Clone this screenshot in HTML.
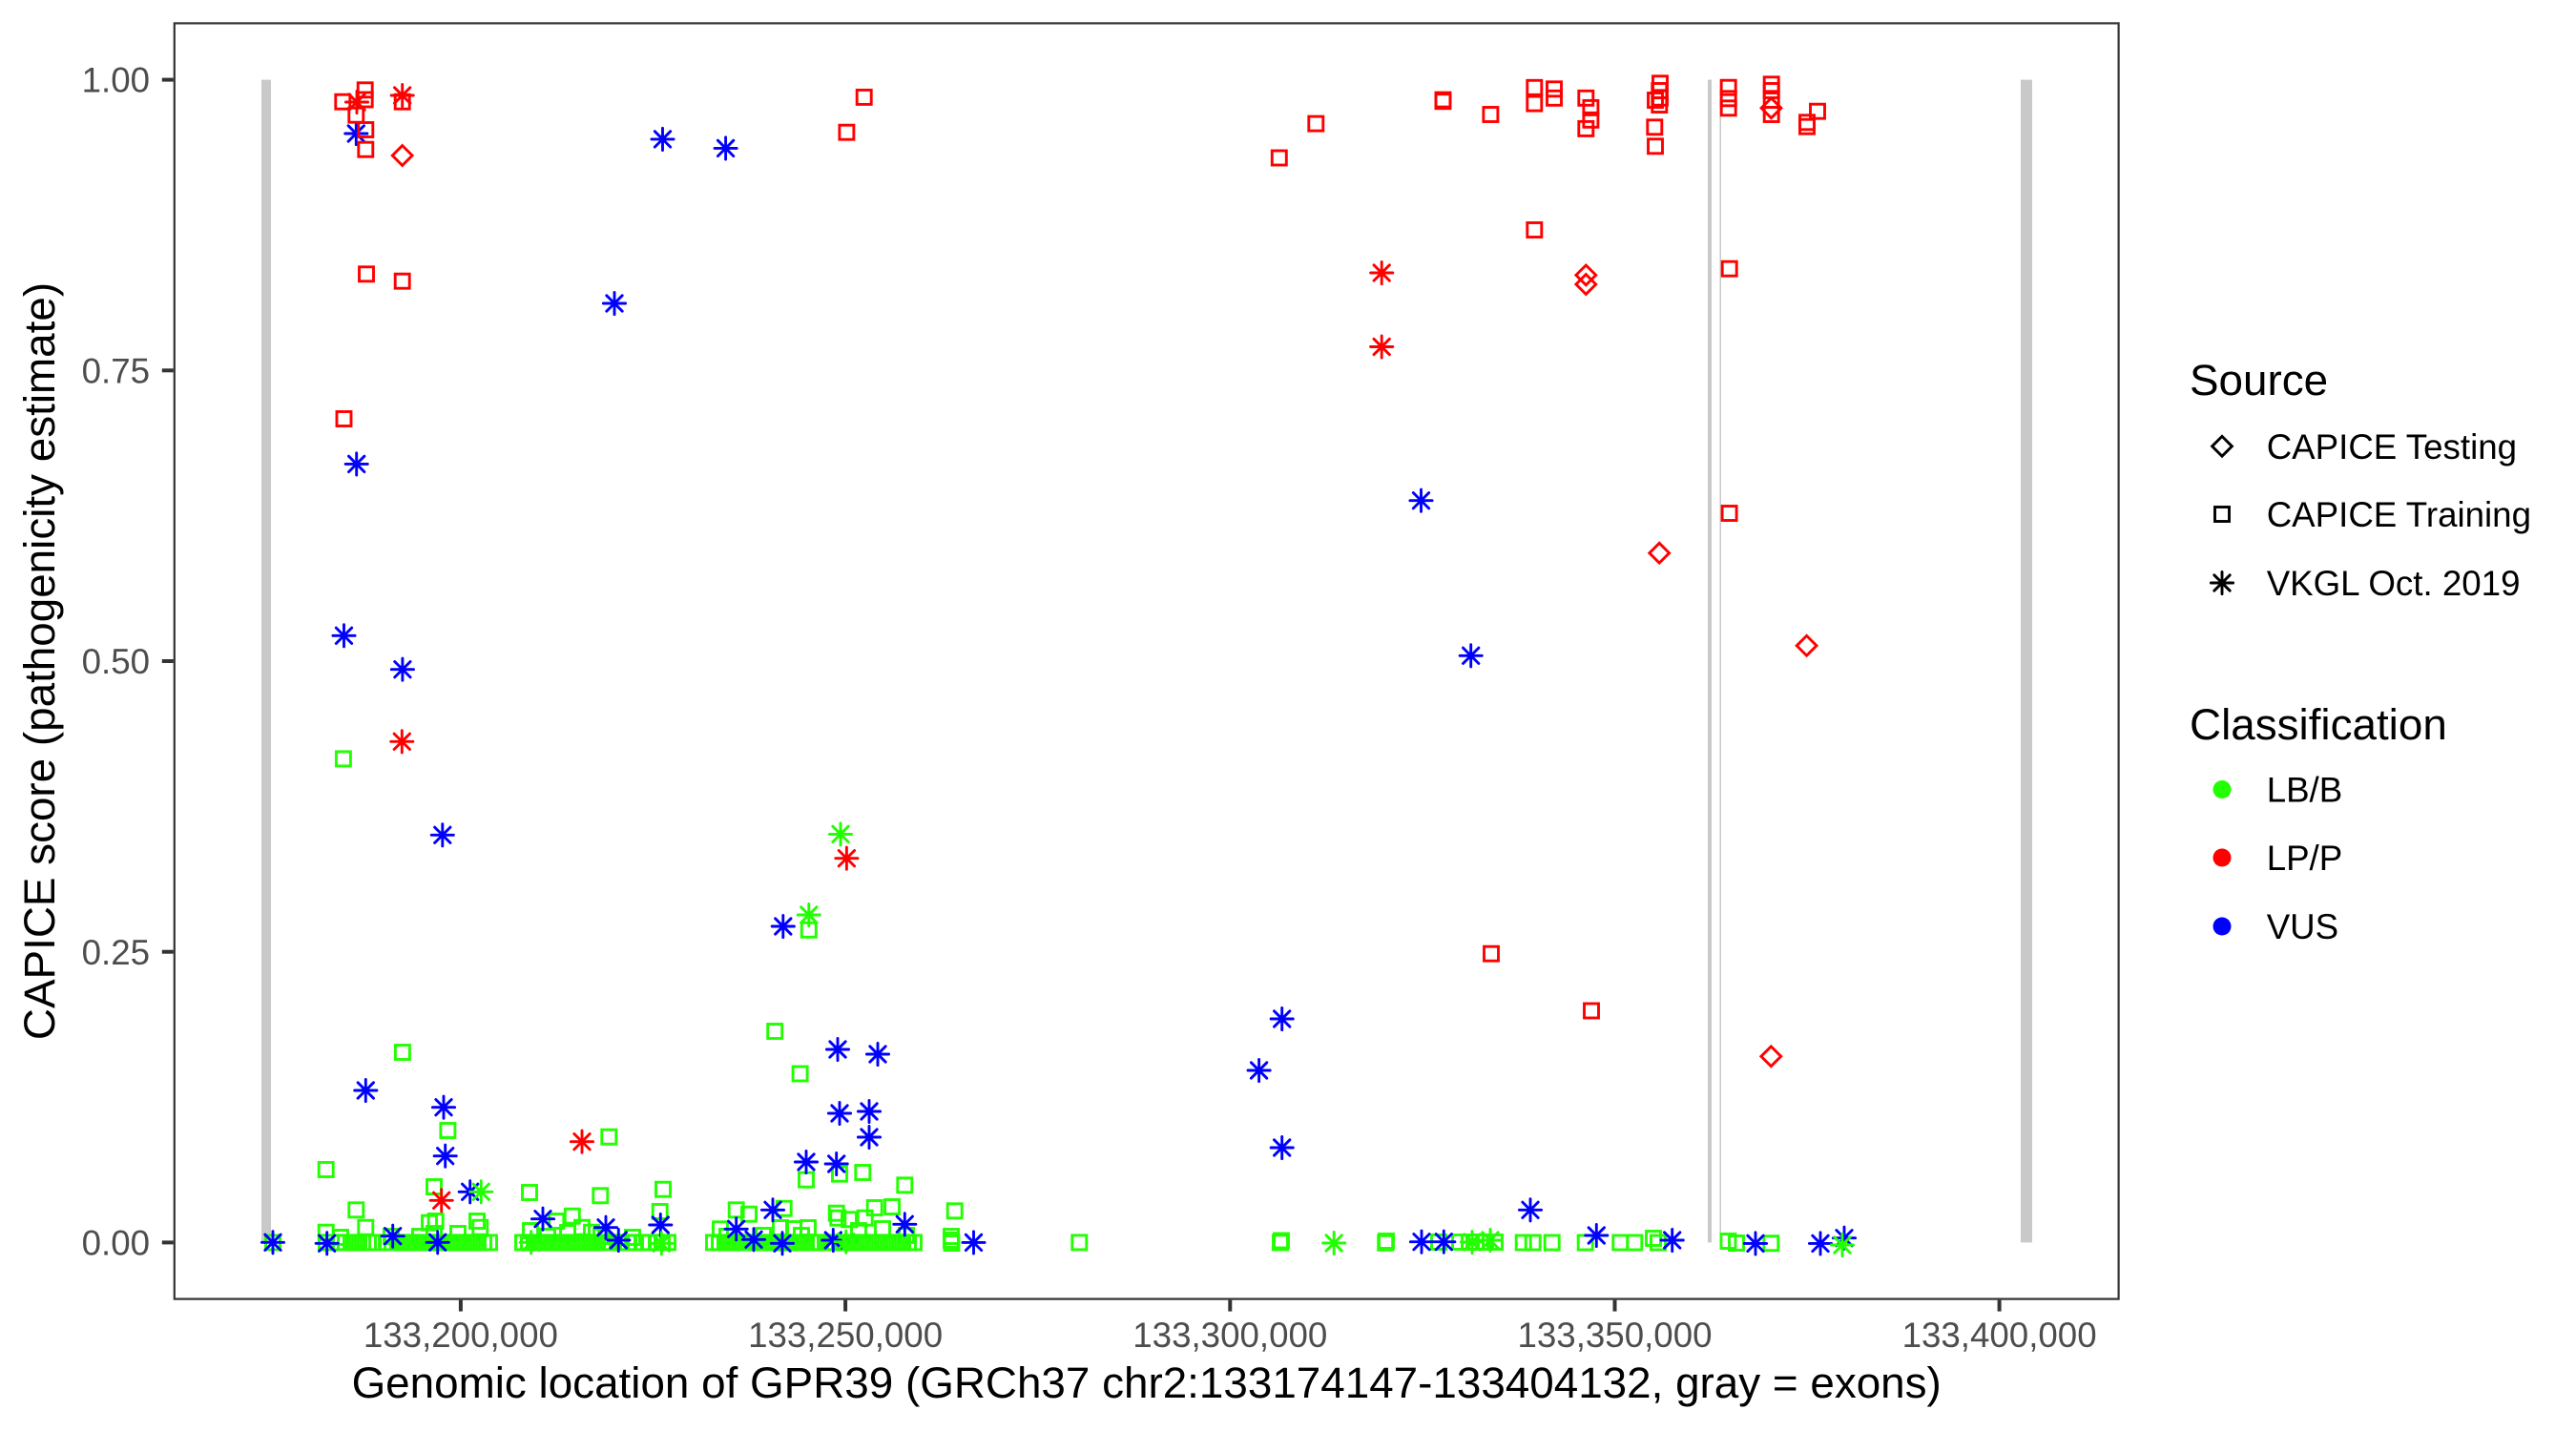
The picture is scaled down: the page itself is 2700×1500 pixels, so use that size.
<!DOCTYPE html>
<html>
<head>
<meta charset="utf-8">
<style>
html,body{margin:0;padding:0;background:#fff;}
body{width:2700px;height:1500px;overflow:hidden;}
svg{display:block;}
text{font-family:"Liberation Sans",Arial,sans-serif;}
</style>
</head>
<body>
<svg width="2700" height="1500" viewBox="0 0 2700 1500" xmlns="http://www.w3.org/2000/svg">
<defs>
<rect id="s" x="-7.5" y="-7.5" width="15" height="15"/>
<path id="d" d="M0,-10.4L10.4,0L0,10.4L-10.4,0Z"/>
<path id="a" d="M-8.2,-8.2L8.2,8.2M-8.2,8.2L8.2,-8.2M-11.6,0H11.6M0,-11.6V11.6"/>
</defs>
<rect width="2700" height="1500" fill="#fff"/>

<!-- exons -->
<g fill="#C9C9C9">
<rect x="274" y="83.6" width="10" height="1218.8"/>
<rect x="1790" y="83.6" width="4" height="1218.8"/>
<rect x="1802.5" y="83.6" width="1.5" height="1218.8"/>
<rect x="2118" y="83.6" width="12" height="1218.8"/>
</g>

<!-- green squares -->
<g fill="none" stroke="#22FF00" stroke-width="2.9" stroke-linejoin="miter">
<use href="#s" x="359.9" y="795.4"/><use href="#s" x="421.9" y="1103"/><use href="#s" x="469.4" y="1185"/>
<use href="#s" x="341.7" y="1226"/><use href="#s" x="455" y="1244"/><use href="#s" x="373.3" y="1268.3"/>
<use href="#s" x="383.3" y="1286.7"/><use href="#s" x="341.7" y="1291.7"/><use href="#s" x="555" y="1250"/>
<use href="#s" x="629.3" y="1253.3"/><use href="#s" x="638.3" y="1191.7"/><use href="#s" x="695" y="1246.7"/>
<use href="#s" x="691.7" y="1270"/><use href="#s" x="599.8" y="1274.7"/><use href="#s" x="583.3" y="1280"/>
<use href="#s" x="610" y="1286.7"/><use href="#s" x="620" y="1291.7"/><use href="#s" x="812.2" y="1081"/>
<use href="#s" x="838.6" y="1125.5"/><use href="#s" x="847.8" y="974.8"/><use href="#s" x="845" y="1236.7"/>
<use href="#s" x="880" y="1230.7"/><use href="#s" x="904.3" y="1229"/><use href="#s" x="948.3" y="1242.3"/>
<use href="#s" x="1000.7" y="1269.3"/><use href="#s" x="450" y="1281.7"/><use href="#s" x="456.7" y="1280"/>
<use href="#s" x="500" y="1280"/><use href="#s" x="503.3" y="1286.7"/><use href="#s" x="755" y="1288.3"/>
<use href="#s" x="771.7" y="1268.3"/><use href="#s" x="785" y="1272.7"/><use href="#s" x="821.7" y="1266.7"/>
<use href="#s" x="818" y="1287"/><use href="#s" x="832" y="1288"/><use href="#s" x="847" y="1287"/>
<use href="#s" x="876.7" y="1271.7"/><use href="#s" x="878.3" y="1276.7"/><use href="#s" x="890" y="1278.3"/>
<use href="#s" x="906.7" y="1276.7"/><use href="#s" x="916.7" y="1266"/><use href="#s" x="935" y="1265"/>
<use href="#s" x="900" y="1290"/><use href="#s" x="925" y="1288"/><use href="#s" x="556" y="1290"/>
<use href="#s" x="455" y="1293"/><use href="#s" x="440" y="1296"/><use href="#s" x="480" y="1293"/>
<use href="#s" x="762" y="1296"/><use href="#s" x="800" y="1295"/><use href="#s" x="840" y="1295"/>
<use href="#s" x="950" y="1295"/><use href="#s" x="997" y="1296"/><use href="#s" x="574" y="1296"/>
<use href="#s" x="595" y="1292"/><use href="#s" x="630" y="1296"/><use href="#s" x="663" y="1297"/>
<use href="#s" x="410" y="1296"/><use href="#s" x="357" y="1297"/><use href="#s" x="1733" y="1298"/>
<!-- baseline -->
<use href="#s" x="286" y="1302.4"/><use href="#s" x="342" y="1302.4"/>
<use href="#s" x="356" y="1302.4"/><use href="#s" x="362" y="1302.4"/><use href="#s" x="368" y="1302.4"/>
<use href="#s" x="374" y="1302.4"/><use href="#s" x="380" y="1302.4"/><use href="#s" x="386" y="1302.4"/>
<use href="#s" x="391" y="1302.4"/>
<use href="#s" x="405" y="1302.4"/><use href="#s" x="411" y="1302.4"/><use href="#s" x="417" y="1302.4"/>
<use href="#s" x="423" y="1302.4"/><use href="#s" x="429" y="1302.4"/><use href="#s" x="435" y="1302.4"/>
<use href="#s" x="441" y="1302.4"/><use href="#s" x="447" y="1302.4"/><use href="#s" x="453" y="1302.4"/>
<use href="#s" x="459" y="1302.4"/><use href="#s" x="465" y="1302.4"/><use href="#s" x="471" y="1302.4"/>
<use href="#s" x="477" y="1302.4"/><use href="#s" x="483" y="1302.4"/><use href="#s" x="489" y="1302.4"/>
<use href="#s" x="495" y="1302.4"/><use href="#s" x="501" y="1302.4"/><use href="#s" x="507" y="1302.4"/>
<use href="#s" x="513" y="1302.4"/>
<use href="#s" x="548" y="1302.4"/><use href="#s" x="554" y="1302.4"/><use href="#s" x="560" y="1302.4"/>
<use href="#s" x="566" y="1302.4"/><use href="#s" x="572" y="1302.4"/><use href="#s" x="578" y="1302.4"/>
<use href="#s" x="584" y="1302.4"/><use href="#s" x="590" y="1302.4"/><use href="#s" x="596" y="1302.4"/>
<use href="#s" x="602" y="1302.4"/><use href="#s" x="608" y="1302.4"/><use href="#s" x="614" y="1302.4"/>
<use href="#s" x="620" y="1302.4"/><use href="#s" x="626" y="1302.4"/><use href="#s" x="632" y="1302.4"/>
<use href="#s" x="638" y="1302.4"/>
<use href="#s" x="650" y="1302.4"/><use href="#s" x="658" y="1302.4"/><use href="#s" x="666" y="1302.4"/>
<use href="#s" x="674" y="1302.4"/><use href="#s" x="680" y="1302.4"/>
<use href="#s" x="688" y="1302.4"/><use href="#s" x="694" y="1302.4"/><use href="#s" x="700" y="1302.4"/>
<use href="#s" x="748" y="1302.4"/><use href="#s" x="754" y="1302.4"/><use href="#s" x="760" y="1302.4"/>
<use href="#s" x="766" y="1302.4"/><use href="#s" x="772" y="1302.4"/><use href="#s" x="778" y="1302.4"/>
<use href="#s" x="784" y="1302.4"/><use href="#s" x="790" y="1302.4"/><use href="#s" x="796" y="1302.4"/>
<use href="#s" x="802" y="1302.4"/><use href="#s" x="808" y="1302.4"/><use href="#s" x="814" y="1302.4"/>
<use href="#s" x="820" y="1302.4"/><use href="#s" x="826" y="1302.4"/><use href="#s" x="832" y="1302.4"/>
<use href="#s" x="838" y="1302.4"/><use href="#s" x="844" y="1302.4"/><use href="#s" x="850" y="1302.4"/>
<use href="#s" x="856" y="1302.4"/><use href="#s" x="860" y="1302.4"/>
<use href="#s" x="868" y="1302.4"/><use href="#s" x="874" y="1302.4"/><use href="#s" x="880" y="1302.4"/>
<use href="#s" x="886" y="1302.4"/><use href="#s" x="892" y="1302.4"/><use href="#s" x="898" y="1302.4"/>
<use href="#s" x="904" y="1302.4"/><use href="#s" x="910" y="1302.4"/><use href="#s" x="916" y="1302.4"/>
<use href="#s" x="922" y="1302.4"/><use href="#s" x="928" y="1302.4"/><use href="#s" x="934" y="1302.4"/>
<use href="#s" x="940" y="1302.4"/><use href="#s" x="946" y="1302.4"/><use href="#s" x="952" y="1302.4"/>
<use href="#s" x="958" y="1302.4"/>
<use href="#s" x="997" y="1300"/><use href="#s" x="997.5" y="1303"/>
<use href="#s" x="1131.3" y="1302.4"/><use href="#s" x="1342" y="1302.4"/><use href="#s" x="1343" y="1300.5"/>
<use href="#s" x="1452.2" y="1302.8"/><use href="#s" x="1453" y="1301"/>
<use href="#s" x="1508" y="1302"/><use href="#s" x="1530" y="1302"/><use href="#s" x="1540" y="1302"/>
<use href="#s" x="1547" y="1302"/><use href="#s" x="1557" y="1302"/><use href="#s" x="1567" y="1302"/>
<use href="#s" x="1596.7" y="1302.5"/><use href="#s" x="1606.7" y="1302.5"/><use href="#s" x="1626.7" y="1302.5"/>
<use href="#s" x="1661.7" y="1302.5"/><use href="#s" x="1698.3" y="1302.5"/><use href="#s" x="1713.3" y="1302.5"/>
<use href="#s" x="1738" y="1302.6"/>
<use href="#s" x="1811.5" y="1301"/><use href="#s" x="1820" y="1303"/><use href="#s" x="1856.3" y="1303.2"/>
</g>

<!-- blue asterisks -->
<g fill="none" stroke="#0000FF" stroke-width="2.9" stroke-linecap="round">
<use href="#a" x="373.3" y="140"/><use href="#a" x="644" y="318"/><use href="#a" x="694.5" y="145.9"/>
<use href="#a" x="760.6" y="155.4"/><use href="#a" x="373.7" y="486.4"/><use href="#a" x="360.5" y="666.3"/>
<use href="#a" x="421.9" y="701.7"/><use href="#a" x="463.8" y="875.3"/><use href="#a" x="820.8" y="971"/>
<use href="#a" x="1489.5" y="524.7"/><use href="#a" x="1541.7" y="687.3"/><use href="#a" x="1343.7" y="1068"/>
<use href="#a" x="1319.6" y="1122"/><use href="#a" x="1343.7" y="1203"/><use href="#a" x="878" y="1100"/>
<use href="#a" x="920" y="1105"/><use href="#a" x="880" y="1167"/><use href="#a" x="911" y="1165"/>
<use href="#a" x="911" y="1192"/><use href="#a" x="845" y="1218"/><use href="#a" x="876.7" y="1220"/>
<use href="#a" x="383.3" y="1143"/><use href="#a" x="465" y="1160.7"/><use href="#a" x="466.7" y="1211.7"/>
<use href="#a" x="492.7" y="1249.3"/><use href="#a" x="569" y="1277.7"/><use href="#a" x="810" y="1268.3"/>
<use href="#a" x="948.3" y="1283.3"/><use href="#a" x="1604" y="1268.3"/><use href="#a" x="1673.3" y="1295"/>
<use href="#a" x="286" y="1302.3"/><use href="#a" x="342.7" y="1303.3"/><use href="#a" x="411.7" y="1295.7"/>
<use href="#a" x="458.7" y="1302.3"/><use href="#a" x="635" y="1286.7"/><use href="#a" x="648.3" y="1300"/>
<use href="#a" x="692.3" y="1284"/><use href="#a" x="771.7" y="1288.3"/><use href="#a" x="790" y="1299.3"/>
<use href="#a" x="820" y="1303.3"/><use href="#a" x="873.3" y="1300"/><use href="#a" x="1020.5" y="1302.4"/>
<use href="#a" x="1490" y="1301.7"/><use href="#a" x="1513.3" y="1301.7"/><use href="#a" x="1752.7" y="1300"/>
<use href="#a" x="1840" y="1303.4"/><use href="#a" x="1908" y="1303.4"/><use href="#a" x="1933" y="1297.7"/>
</g>

<!-- green asterisks -->
<g fill="none" stroke="#22FF00" stroke-width="2.9" stroke-linecap="round">
<use href="#a" x="881" y="874.4"/><use href="#a" x="847.8" y="959"/><use href="#a" x="504.3" y="1249.3"/>
<use href="#a" x="556.7" y="1302.3"/><use href="#a" x="693.3" y="1303.3"/><use href="#a" x="886.7" y="1301.7"/>
<use href="#a" x="1398.2" y="1303"/><use href="#a" x="1543" y="1302"/><use href="#a" x="1562" y="1300"/>
<use href="#a" x="1931" y="1305"/>
</g>

<!-- red squares -->
<g fill="none" stroke="#FF0000" stroke-width="2.9">
<use href="#s" x="359.3" y="106.7"/><use href="#s" x="382.7" y="94.3"/><use href="#s" x="382.7" y="104.5"/>
<use href="#s" x="373.3" y="120.7"/><use href="#s" x="383.3" y="136"/><use href="#s" x="383.3" y="156.7"/>
<use href="#s" x="421.7" y="106.7"/><use href="#s" x="384" y="287.3"/><use href="#s" x="421.7" y="294.7"/>
<use href="#s" x="360.5" y="439"/><use href="#s" x="887.4" y="138.7"/><use href="#s" x="905.7" y="101.9"/>
<use href="#s" x="1340.8" y="165.5"/><use href="#s" x="1379.3" y="129.6"/><use href="#s" x="1512.5" y="106.2"/>
<use href="#s" x="1512.5" y="104.6"/><use href="#s" x="1562.4" y="120"/><use href="#s" x="1608.3" y="91.8"/>
<use href="#s" x="1608.3" y="108.6"/><use href="#s" x="1629" y="93.3"/><use href="#s" x="1629" y="102.8"/>
<use href="#s" x="1662.3" y="102.8"/><use href="#s" x="1667.4" y="112.9"/><use href="#s" x="1667.4" y="125.8"/>
<use href="#s" x="1662.3" y="134.9"/><use href="#s" x="1740" y="87.3"/><use href="#s" x="1739.3" y="95"/>
<use href="#s" x="1735" y="105"/><use href="#s" x="1740" y="102.7"/><use href="#s" x="1739.3" y="110"/>
<use href="#s" x="1734.3" y="133.3"/><use href="#s" x="1735" y="153.3"/><use href="#s" x="1811.7" y="91.7"/>
<use href="#s" x="1811.7" y="103.3"/><use href="#s" x="1811.7" y="113.3"/><use href="#s" x="1812.7" y="281.7"/>
<use href="#s" x="1812.6" y="538"/><use href="#s" x="1856.7" y="88.3"/><use href="#s" x="1856.7" y="95"/>
<use href="#s" x="1856.7" y="105"/><use href="#s" x="1856.7" y="120"/><use href="#s" x="1905" y="116.7"/>
<use href="#s" x="1894" y="128.3"/><use href="#s" x="1894" y="132.7"/><use href="#s" x="1608.3" y="241"/>
<use href="#s" x="1563" y="999.7"/><use href="#s" x="1668" y="1059.5"/>
</g>

<!-- red diamonds -->
<g fill="none" stroke="#FF0000" stroke-width="2.9">
<use href="#d" x="421.7" y="163"/><use href="#d" x="1662.3" y="288.4"/><use href="#d" x="1662.3" y="298"/>
<use href="#d" x="1739.2" y="579.7"/><use href="#d" x="1856.5" y="113.3"/><use href="#d" x="1893.6" y="676.8"/>
<use href="#d" x="1856.3" y="1107.3"/>
</g>

<!-- red asterisks -->
<g fill="none" stroke="#FF0000" stroke-width="2.9" stroke-linecap="round">
<use href="#a" x="374" y="107"/><use href="#a" x="421.7" y="100"/><use href="#a" x="421.3" y="777.3"/>
<use href="#a" x="462.7" y="1258.3"/><use href="#a" x="610" y="1196.7"/><use href="#a" x="887.4" y="899.7"/>
<use href="#a" x="1448.2" y="286"/><use href="#a" x="1448.2" y="363.5"/>
</g>

<!-- panel border (inner half visible) -->
<rect x="182.8" y="24.4" width="2037.8" height="1337.2" fill="none" stroke="#333333" stroke-width="2.2"/>

<!-- ticks -->
<g stroke="#333333" stroke-width="4">
<line x1="169.8" y1="83.6" x2="181.7" y2="83.6"/>
<line x1="169.8" y1="388.3" x2="181.7" y2="388.3"/>
<line x1="169.8" y1="693" x2="181.7" y2="693"/>
<line x1="169.8" y1="997.7" x2="181.7" y2="997.7"/>
<line x1="169.8" y1="1302.4" x2="181.7" y2="1302.4"/>
<line x1="482.9" y1="1362.7" x2="482.9" y2="1374.6"/>
<line x1="886.1" y1="1362.7" x2="886.1" y2="1374.6"/>
<line x1="1289.3" y1="1362.7" x2="1289.3" y2="1374.6"/>
<line x1="1692.5" y1="1362.7" x2="1692.5" y2="1374.6"/>
<line x1="2095.6" y1="1362.7" x2="2095.6" y2="1374.6"/>
</g>
<g font-size="36.7" fill="#4D4D4D" text-anchor="end">
<text x="157" y="96.7">1.00</text>
<text x="157" y="401.4">0.75</text>
<text x="157" y="706.1">0.50</text>
<text x="157" y="1010.8">0.25</text>
<text x="157" y="1315.5">0.00</text>
</g>
<g font-size="36.7" fill="#4D4D4D" text-anchor="middle">
<text x="482.9" y="1412">133,200,000</text>
<text x="886.1" y="1412">133,250,000</text>
<text x="1289.3" y="1412">133,300,000</text>
<text x="1692.5" y="1412">133,350,000</text>
<text x="2095.6" y="1412">133,400,000</text>
</g>

<text x="1201.7" y="1465" font-size="45.8" fill="#000" text-anchor="middle">Genomic location of GPR39 (GRCh37 chr2:133174147-133404132, gray = exons)</text>
<text transform="translate(57,693) rotate(-90)" font-size="45.8" fill="#000" text-anchor="middle">CAPICE score (pathogenicity estimate)</text>

<!-- legend -->
<text x="2295" y="414" font-size="45.8" fill="#000">Source</text>
<g fill="none" stroke="#000" stroke-width="2.9" stroke-linecap="round">
<use href="#d" x="2329" y="467.8"/>
<use href="#s" x="2329" y="539"/>
<use href="#a" x="2329" y="611"/>
</g>
<g font-size="36.7" fill="#000">
<text x="2375.7" y="481">CAPICE Testing</text>
<text x="2375.7" y="552">CAPICE Training</text>
<text x="2375.7" y="624">VKGL Oct. 2019</text>
</g>
<text x="2295" y="775" font-size="45.8" fill="#000">Classification</text>
<circle cx="2329" cy="827.5" r="9.5" fill="#22FF00"/>
<circle cx="2329" cy="899" r="9.5" fill="#FF0000"/>
<circle cx="2329" cy="971" r="9.5" fill="#0000FF"/>
<g font-size="36.7" fill="#000">
<text x="2375.7" y="840.6">LB/B</text>
<text x="2375.7" y="912">LP/P</text>
<text x="2375.7" y="984">VUS</text>
</g>
</svg>
</body>
</html>
